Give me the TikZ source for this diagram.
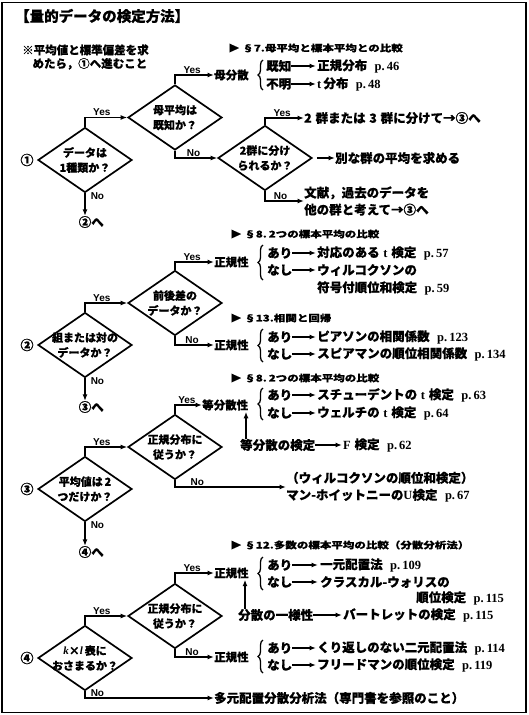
\documentclass[tikz,border=0pt]{standalone}
\usepackage{fontspec}
\usepackage{graphicx}
\setmainfont{Noto Sans CJK JP}[BoldFeatures={FakeBold=0.5}]
\newfontfamily\serf{Liberation Serif}
\newfontfamily\sansf{Liberation Sans}
\usetikzlibrary{shapes.geometric,arrows.meta,decorations.pathreplacing}
\newcommand\pg[1]{\hspace{0.6em}{\serf\bfseries p.\,#1}}
\newcommand\lat[1]{{\serf\bfseries #1}}
\newcommand\itl[1]{{\serf\bfseries\itshape #1}}
\newcommand\hdtext[1]{\scalebox{1}[0.8]{#1}}
\newcommand\gap{\hspace{0.3em}}
\begin{document}
\begin{tikzpicture}[x=1pt,y=-1pt,
  arr/.style={line width=1.5pt,-{Latex[length=6.5pt,width=5pt]}},
  diam/.style={draw,line width=1.7pt,shape=diamond,minimum width=94pt,minimum height=65pt,inner sep=0pt},
  dtx/.style={font=\fontsize{11}{15}\selectfont\bfseries,align=center,inner sep=0pt},
  tx/.style={font=\fontsize{12.5}{17}\selectfont\bfseries,inner sep=0pt,anchor=west},
  lb/.style={font=\fontsize{11.5}{14}\selectfont\bfseries,inner sep=0pt,anchor=west},
  hd/.style={font=\fontsize{11.5}{12}\selectfont\bfseries,inner sep=0pt,anchor=west},
  yn/.style={font=\sansf\bfseries\fontsize{10}{10}\selectfont,inner sep=1pt},
  num/.style={font=\fontsize{13}{13}\selectfont\bfseries,inner sep=0pt},
  br/.style={decorate,decoration={brace,amplitude=5pt},line width=1.3pt},
]
\useasboundingbox (0,0) rectangle (528,715);
\draw[line width=1.5pt] (2,2.5) rectangle (526,712.5);

% title and note
\node[anchor=west,font=\fontsize{14.5}{15}\selectfont\bfseries,inner sep=0pt] (title) at (15,16) {【量的データの検定方法】};
\node[anchor=west,align=left,font=\fontsize{11.5}{13.5}\selectfont\bfseries,inner sep=0pt] (note) at (22,57) {※平均値と標準偏差を求\\\hspace*{0.9em}めたら，①へ進むこと};

% ---------------- section 1
\node[hd] (s7) at (228,48) {\hdtext{▶ §7.母平均と標本平均との比較}};
\node[diam] (d1) at (85,160) {};
\node[dtx] (t1) at (d1) {データは\\1種類か？};
\node[num] (c1) at (27,160) {①};
\node[diam] (d2) at (175,117.5) {};
\node[dtx] (t2) at (d2) {母平均は\\既知か？};
\node[diam] (d3) at (265,158) {};
\node[dtx] (t3) at (d3) {2群に分け\\られるか？};

\node[lb] (bs) at (214,75) {母分散};
\draw[br] (263,90) -- (263,60);
\node[tx] (k1) at (266,66) {既知};
\node[tx] (k2) at (317,66) {正規分布\pg{46}};
\node[tx] (f1) at (266,84) {不明};
\node[tx] (f2) at (317,84) {\lat{t}\,分布\pg{48}};
\draw[arr,shorten >=1pt] (k1) -- (k2);
\draw[arr,shorten >=1pt] (f1) -- (f2);

\node[tx] (g3) at (304,118) {2\gap 群または\gap 3\gap 群に分けて→③へ};
\node[tx] (betsu) at (335,158) {別な群の平均を求める};
\node[tx,align=left] (bun) at (304,201) {文献，過去のデータを\\他の群と考えて→③へ};
\node[num,font=\fontsize{12.5}{13}\selectfont\bfseries] (to2) at (85,222) {②\rlap{へ}};

\draw[arr] (d1.north) |- (d2.west) node[yn,above,pos=0.7] (y1) {Yes};
\draw[arr] (d2.north) |- (bs.west) node[yn,above,pos=0.72] (y2) {Yes};
\draw[arr] (d2.south) |- (d3.west) node[yn,above,pos=0.72] (n2) {No};
\draw[arr] (d3.north) |- (g3.west) node[yn,above,pos=0.72] (y3) {Yes};
\draw[arr,shorten <=4pt] (d3.east) -- (betsu.west);
\draw[arr] (d3.south) |- (bun.west) node[yn,above,pos=0.7] (n3) {No};
\draw[arr] (d1.south) -- (to2.north) node[yn,pos=0,anchor=west,xshift=4pt,yshift=-3pt] (n1) {No};

% ---------------- section 2
\node[hd] (s8a) at (230,234) {\hdtext{▶ §8.\,2つの標本平均の比較}};
\node[diam] (d4) at (85,345) {};
\node[dtx] (t4) at (d4) {組または対の\\データか？};
\node[num] (c2) at (27,345) {②};
\node[diam] (d5) at (175,303) {};
\node[dtx] (t5) at (d5) {前後差の\\データか？};
\node[lb] (sk1) at (214,262) {正規性};
\draw[br] (263,280) -- (263,245);
\node[tx] (a1) at (267,253) {あり};
\node[tx] (r1) at (317,253) {対応のある\gap\lat{t}\gap 検定\pg{57}};
\node[tx] (m1) at (267,270) {なし};
\node[tx] (r2) at (317,270) {ウィルコクソンの};
\node[tx] (r2b) at (317,288) {符号付順位和検定\pg{59}};
\draw[arr,shorten >=1pt] (a1) -- (r1);
\draw[arr,shorten >=1pt] (m1) -- (r2);
\node[hd] (s13) at (230,318) {\hdtext{▶ §13.相関と回帰}};
\node[lb] (sk2) at (214,345) {正規性};
\draw[br] (263,362) -- (263,329);
\node[tx] (a2) at (267,337) {あり};
\node[tx] (r3) at (317,337) {ピアソンの相関係数\pg{123}};
\node[tx] (m2) at (267,354) {なし};
\node[tx] (r4) at (317,354) {スピアマンの順位相関係数\pg{134}};
\draw[arr,shorten >=1pt] (a2) -- (r3);
\draw[arr,shorten >=1pt] (m2) -- (r4);
\node[num,font=\fontsize{12.5}{13}\selectfont\bfseries] (to3) at (85,407) {③\rlap{へ}};

\draw[arr] (d4.north) |- (d5.west) node[yn,above,pos=0.7] (y4) {Yes};
\draw[arr] (d5.north) |- (sk1.west) node[yn,above,pos=0.72] (y5) {Yes};
\draw[arr] (d5.south) |- (sk2.west) node[yn,above,pos=0.72] (n5) {No};
\draw[arr] (d4.south) -- (to3.north) node[yn,pos=0,anchor=west,xshift=4pt,yshift=-3pt] (n4) {No};

% ---------------- section 3
\node[hd] (s8b) at (230,378) {\hdtext{▶ §8.\,2つの標本平均の比較}};
\node[diam] (d6) at (85,489) {};
\node[dtx] (t6) at (d6) {平均値は\,2\\つだけか？};
\node[num] (c3) at (27,489) {③};
\node[diam] (d7) at (175,447) {};
\node[dtx] (t7) at (d7) {正規分布に\\従うか？};
\node[lb] (tb) at (202,405) {等分散性};
\draw[br] (263,420) -- (263,388);
\node[tx] (a3) at (267,395) {あり};
\node[tx] (r5) at (317,395) {スチューデントの\gap\lat{t}\gap 検定\pg{63}};
\node[tx] (m3) at (267,413) {なし};
\node[tx] (r6) at (317,413) {ウェルチの\gap\lat{t}\gap 検定\pg{64}};
\draw[arr,shorten >=1pt] (a3) -- (r5);
\draw[arr,shorten >=1pt] (m3) -- (r6);
\node[tx] (tk) at (240,445) {等分散の検定};
\node[tx] (fk) at (343,445) {\lat{F}\gap 検定\pg{62}};
\draw[arr,shorten >=1pt] (tk) -- (fk);
\draw[arr,shorten >=1pt] ([xshift=6pt]tk.north west) -- ([xshift=6pt]tk.north west |- tb.south);
\node[tx,align=left] (mw) at (286,487) {（ウィルコクソンの順位和検定）\\マン-ホイットニーの\lat{U}検定\pg{67}};
\node[num,font=\fontsize{12.5}{13}\selectfont\bfseries] (to4) at (85,552) {④\rlap{へ}};

\draw[arr] (d6.north) |- (d7.west) node[yn,above,pos=0.7] (y6) {Yes};
\draw[arr] (d7.north) |- (tb.west) node[yn,above,pos=0.72] (y7) {Yes};
\draw[arr] (d7.south) |- (mw.west) node[yn,above,pos=0.6] (n7) {No};
\draw[arr] (d6.south) -- (to4.north) node[yn,pos=0,anchor=west,xshift=4pt,yshift=-3pt] (n6) {No};

% ---------------- section 4
\node[hd] (s12) at (230,545) {\hdtext{▶ §12.多数の標本平均の比較（分散分析法）}};
\node[diam] (d8) at (85,658) {};
\node[dtx] (t8) at (d8) {\itl{k}×\itl{l}\,表に\\おさまるか？};
\node[num] (c4) at (27,658) {④};
\node[diam] (d9) at (175,616) {};
\node[dtx] (t9) at (d9) {正規分布に\\従うか？};
\node[lb] (sk3) at (214,573) {正規性};
\draw[br] (263,590) -- (263,557);
\node[tx] (a4) at (267,565) {あり};
\node[tx] (r7) at (320,565) {一元配置法\pg{109}};
\node[tx] (m4) at (267,582) {なし};
\node[tx] (r8) at (320,582) {クラスカル-ウォリスの};
\node[tx] (r8b) at (416,598) {順位検定\pg{115}};
\draw[arr,shorten >=2pt] (a4) -- (r7);
\draw[arr,shorten >=2pt] (m4) -- (r8);
\node[tx] (ib) at (238,615) {分散の一様性};
\node[tx] (bt) at (343,615) {バートレットの検定\pg{115}};
\draw[arr,shorten >=1pt] (ib) -- (bt);
\draw[arr,shorten >=1pt] ([xshift=7pt]ib.north west) -- ([xshift=7pt]ib.north west |- sk3.south);
\node[lb] (sk4) at (214,657) {正規性};
\draw[br] (263,673) -- (263,640);
\node[tx] (a5) at (267,648) {あり};
\node[tx] (r9) at (317,648) {くり返しのない二元配置法\pg{114}};
\node[tx] (m5) at (267,665) {なし};
\node[tx] (r10) at (317,665) {フリードマンの順位検定\pg{119}};
\draw[arr,shorten >=1pt] (a5) -- (r9);
\draw[arr,shorten >=1pt] (m5) -- (r10);
\node[tx] (tg) at (214,698) {多元配置分散分析法（専門書を参照のこと）};

\draw[arr] (d8.north) |- (d9.west) node[yn,above,pos=0.7] (y8) {Yes};
\draw[arr] (d9.north) |- (sk3.west) node[yn,above,pos=0.72] (y9) {Yes};
\draw[arr] (d9.south) |- (sk4.west) node[yn,above,pos=0.72] (n9) {No};
\draw[arr] (d8.south) |- (tg.west) node[yn,pos=0,anchor=west,xshift=4pt,yshift=-2pt] (n8) {No};
\end{tikzpicture}
\end{document}
